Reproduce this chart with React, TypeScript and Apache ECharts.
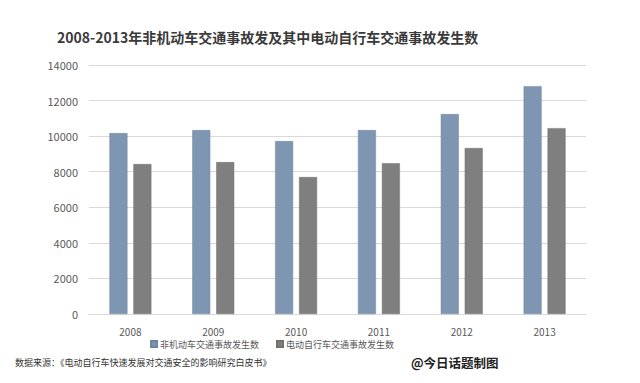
import React, { useEffect, useRef } from "react";
import * as echarts from "echarts";

const years = ["2008", "2009", "2010", "2011", "2012", "2013"];
const nonMotorAccidents = [10170, 10340, 9720, 10340, 11240, 12810];
const eBikeAccidents = [8430, 8540, 7700, 8480, 9330, 10450];
const seriesNames = ["非机动车交通事故发生数", "电动自行车交通事故发生数"];
const titleText = "2008-2013年非机动车交通事故发及其中电动自行车交通事故发生数";
const sourceText = "数据来源：《电动自行车快速发展对交通安全的影响研究白皮书》";
const creditText = "@今日话题制图";

export default function App() {
  const ref = useRef<HTMLDivElement>(null);
  useEffect(() => {
    if (!ref.current) return;
    const chart = echarts.init(ref.current, undefined, { renderer: "svg" });
    const font = "'Microsoft YaHei', 'Noto Sans CJK SC', sans-serif";
    chart.setOption({
      animation: false,
      backgroundColor: "#ffffff",
      title: {
        text: titleText,
        left: 52,
        top: 25,
        textStyle: {
          fontSize: 14,
          fontWeight: "bold",
          color: "#3a3a3a",
          fontFamily: "'Noto Sans CJK SC', sans-serif",
        },
      },
      grid: { left: 89, right: 54, top: 65, bottom: 69 },
      legend: {
        data: seriesNames,
        left: 150,
        top: 339,
        padding: 0,
        itemWidth: 6,
        itemHeight: 6,
        itemGap: 17,
        icon: "rect",
        textStyle: { fontSize: 9, lineHeight: 10, color: "#595959", fontFamily: font, padding: [0, 0, 0, -2] },
      },
      xAxis: {
        type: "category",
        data: years,
        axisLine: { show: true, lineStyle: { color: "#d9d9d9" } },
        axisTick: { show: false },
        axisLabel: { fontSize: 10, lineHeight: 10, color: "#595959", margin: 12, fontFamily: font },
      },
      yAxis: {
        type: "value",
        min: 0,
        max: 14000,
        interval: 2000,
        axisLine: { show: false },
        axisTick: { show: false },
        splitLine: { lineStyle: { color: "#d9d9d9", width: 1 } },
        axisLabel: {
          fontSize: 11,
          color: "#595959",
          margin: 11,
          fontFamily: font,
          formatter: (v: number) => String(v),
        },
      },
      series: [
        {
          name: seriesNames[0],
          type: "bar",
          data: nonMotorAccidents,
          barWidth: 18,
          barGap: "33%",
          itemStyle: { color: "#7f96b2", borderColor: "#6f86a2", borderWidth: 0.5 },
        },
        {
          name: seriesNames[1],
          type: "bar",
          data: eBikeAccidents,
          barWidth: 18,
          itemStyle: { color: "#7f7f7f", borderColor: "#707070", borderWidth: 0.5 },
        },
      ],
      graphic: [
        {
          type: "text",
          left: 15,
          top: 358,
          style: { text: sourceText, fontSize: 9, fill: "#333333", fontFamily: font },
        },
        {
          type: "text",
          left: 411,
          top: 356,
          style: { text: creditText, fontSize: 12.5, fontWeight: "bold", fill: "#222222", fontFamily: font },
        },
      ],
    });
    return () => chart.dispose();
  }, []);
  return (
    <div
      ref={ref}
      style={{ position: "absolute", left: 0, top: 0, width: 640, height: 383 }}
    />
  );
}
